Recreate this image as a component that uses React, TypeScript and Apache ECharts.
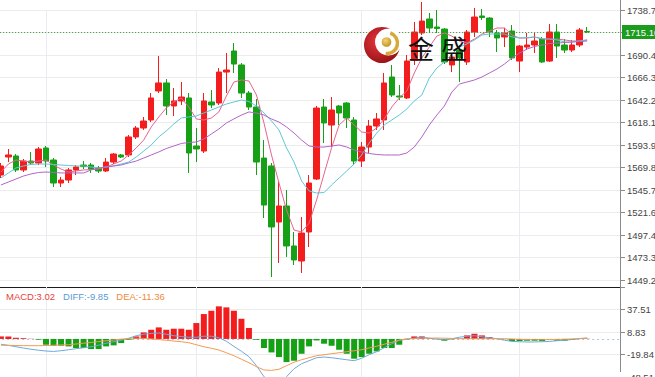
import React, { useEffect, useRef } from "react";
import * as echarts from "echarts";

const CATEGORIES = Array.from({ length: 83 }, (_, i) => String(i + 1));

const OPEN = [
  1561.8, 1581.1, 1582.2, 1567.2, 1576.8, 1574.7, 1590.8, 1577.9, 1553.2, 1556.4,
  1567.2, 1572.5, 1572.5, 1569.3, 1566.1, 1575.7, 1583.3, 1583.3, 1602.6, 1612.2,
  1620.8, 1651.9, 1660.5, 1635.8, 1641.2, 1644.4, 1592.9, 1587.5, 1640.1, 1639.0,
  1672.2, 1694.8, 1679.8, 1649.7, 1634.7, 1580.0, 1571.5, 1511.4, 1528.6, 1485.7,
  1469.6, 1500.7, 1557.5, 1634.7, 1615.4, 1635.8, 1639.0, 1620.8, 1576.8, 1591.8,
  1614.3, 1620.8, 1666.9, 1646.5, 1644.4, 1685.1, 1714.1, 1729.1, 1720.5, 1718.3,
  1679.8, 1695.8, 1683.0, 1715.1, 1732.3, 1730.1, 1714.1, 1709.8, 1716.2, 1684.0,
  1699.0, 1701.2, 1707.6, 1684.0, 1715.1, 1701.2, 1695.8, 1701.2, 1715.7,
];
const CLOSE = [
  1571.5, 1583.3, 1567.2, 1576.8, 1574.7, 1589.7, 1576.8, 1553.2, 1556.4, 1567.2,
  1570.4, 1570.9, 1568.2, 1566.1, 1575.7, 1584.3, 1581.1, 1602.6, 1612.2, 1619.7,
  1644.4, 1660.5, 1635.8, 1641.2, 1645.4, 1585.4, 1589.7, 1641.2, 1636.9, 1672.2,
  1674.4, 1680.8, 1649.7, 1634.7, 1575.7, 1529.6, 1506.1, 1528.6, 1485.7, 1470.7,
  1499.6, 1553.2, 1633.6, 1617.6, 1631.5, 1628.3, 1622.9, 1576.8, 1591.8, 1614.3,
  1621.9, 1660.5, 1647.6, 1645.4, 1684.0, 1715.1, 1726.9, 1719.4, 1718.9, 1683.0,
  1688.3, 1687.3, 1715.1, 1731.2, 1730.7, 1715.1, 1708.7, 1714.1, 1687.3, 1700.1,
  1701.2, 1705.5, 1683.0, 1715.1, 1700.1, 1695.8, 1701.2, 1717.3, 1715.1,
];
const LOW = [
  1558.6, 1575.7, 1565.0, 1565.0, 1572.5, 1572.5, 1570.4, 1548.9, 1548.9, 1553.2,
  1561.8, 1568.2, 1564.0, 1564.0, 1565.0, 1573.6, 1580.0, 1581.1, 1600.4, 1610.1,
  1618.6, 1649.7, 1626.1, 1625.1, 1636.9, 1564.0, 1575.7, 1585.4, 1633.6, 1636.9,
  1649.7, 1671.2, 1644.4, 1631.5, 1561.8, 1515.7, 1452.4, 1467.5, 1473.9, 1465.3,
  1456.7, 1484.6, 1556.4, 1596.1, 1591.8, 1615.4, 1612.2, 1572.5, 1570.4, 1585.4,
  1610.1, 1610.1, 1645.4, 1642.2, 1643.3, 1679.8, 1711.9, 1714.1, 1714.1, 1680.8,
  1672.2, 1661.5, 1679.8, 1709.8, 1728.0, 1709.8, 1693.7, 1699.0, 1685.1, 1672.2,
  1695.8, 1692.6, 1681.9, 1683.0, 1687.3, 1692.6, 1693.7, 1699.0, 1714.1,
];
const HIGH = [
  1574.7, 1589.7, 1584.3, 1579.0, 1586.5, 1591.8, 1592.9, 1580.0, 1559.7, 1569.3,
  1572.5, 1576.8, 1574.7, 1571.5, 1580.0, 1585.4, 1584.3, 1604.7, 1614.3, 1624.0,
  1649.7, 1689.4, 1664.7, 1655.1, 1661.5, 1649.7, 1612.2, 1649.7, 1652.9, 1676.5,
  1692.6, 1703.3, 1681.9, 1651.9, 1643.3, 1599.3, 1574.7, 1554.3, 1545.7, 1500.7,
  1516.8, 1561.8, 1635.8, 1643.3, 1645.4, 1636.9, 1640.1, 1624.0, 1597.2, 1620.8,
  1628.3, 1671.2, 1679.8, 1658.3, 1690.5, 1725.9, 1747.3, 1735.5, 1738.7, 1719.4,
  1692.6, 1701.2, 1717.3, 1740.9, 1739.8, 1731.2, 1717.3, 1719.4, 1722.6, 1701.2,
  1714.1, 1714.1, 1709.8, 1723.7, 1723.7, 1707.6, 1706.6, 1719.4, 1720.5,
];

const MA5 = [
  1565.0, 1573.6, 1577.9, 1576.8, 1575.7, 1576.8, 1577.9, 1572.5, 1568.2, 1565.0,
  1566.1, 1567.2, 1567.7, 1568.2, 1570.4, 1573.6, 1576.8, 1583.3, 1590.8, 1599.3,
  1613.3, 1624.0, 1633.6, 1640.1, 1644.4, 1634.7, 1621.9, 1620.8, 1622.9, 1629.4,
  1646.5, 1661.5, 1663.7, 1662.6, 1647.6, 1617.6, 1583.3, 1553.2, 1524.3, 1502.8,
  1500.7, 1510.0, 1535.0, 1563.0, 1591.0, 1615.4, 1622.9, 1615.4, 1607.9, 1606.8,
  1612.2, 1621.9, 1634.7, 1644.4, 1651.9, 1671.2, 1687.3, 1699.0, 1710.8, 1714.1,
  1710.8, 1705.5, 1703.3, 1707.6, 1713.0, 1716.2, 1719.4, 1719.4, 1711.9, 1708.7,
  1708.7, 1709.8, 1707.6, 1707.6, 1707.6, 1706.6, 1705.5, 1705.5, 1706.6,
];
const MA10 = [
  1558.6, 1564.0, 1569.3, 1571.5, 1573.1, 1573.6, 1573.6, 1573.1, 1572.5, 1572.0,
  1571.5, 1571.5, 1570.4, 1569.3, 1570.4, 1571.5, 1573.6, 1575.7, 1581.1, 1587.5,
  1594.0, 1602.6, 1609.0, 1616.5, 1622.9, 1624.0, 1625.1, 1628.3, 1631.5, 1634.7,
  1637.9, 1640.1, 1642.2, 1640.6, 1635.8, 1628.3, 1619.7, 1610.1, 1590.8, 1575.7,
  1555.4, 1544.7, 1542.5, 1543.0, 1551.1, 1558.6, 1566.1, 1573.6, 1583.3, 1596.1,
  1606.8, 1615.4, 1620.8, 1626.1, 1632.6, 1641.2, 1647.6, 1665.8, 1676.5, 1683.0,
  1691.5, 1699.0, 1702.3, 1706.6, 1711.9, 1713.0, 1713.0, 1713.0, 1709.8, 1708.7,
  1709.2, 1709.8, 1708.2, 1707.6, 1706.6, 1704.4, 1704.4, 1705.5, 1706.6,
];
const MA20 = [
  1551.1, 1554.3, 1557.5, 1560.7, 1562.9, 1564.5, 1565.0, 1564.5, 1564.0, 1564.0,
  1564.0, 1564.0, 1567.2, 1569.3, 1570.4, 1571.5, 1572.5, 1574.7, 1576.8, 1580.0,
  1583.3, 1586.5, 1590.2, 1592.9, 1595.6, 1596.7, 1597.2, 1600.4, 1605.8, 1611.1,
  1617.6, 1621.9, 1626.1, 1629.4, 1628.3, 1626.1, 1621.9, 1618.6, 1613.3, 1606.8,
  1599.3, 1592.9, 1591.8, 1591.8, 1592.9, 1594.0, 1591.8, 1588.6, 1586.5, 1584.9,
  1583.8, 1583.3, 1583.3, 1583.3, 1585.4, 1591.8, 1602.6, 1615.4, 1626.1, 1635.8,
  1650.8, 1659.4, 1661.5, 1663.7, 1666.9, 1671.2, 1675.5, 1680.8, 1687.3, 1692.6,
  1696.9, 1699.6, 1701.2, 1702.8, 1703.3, 1703.9, 1704.4, 1704.9, 1705.5,
];

const MACD_HIST = [
  3.2, 3.0, 1.5, 1.0, 0.3, -1.0, -7.4, -8.7, -8.7, -9.5,
  -11.6, -11.6, -12.9, -12.9, -9.5, -8.2, -5.3, -1.0, 3.2, 8.3,
  11.7, 14.7, 11.7, 13.0, 13.0, 11.7, 20.2, 31.7, 35.9, 41.5,
  40.2, 35.9, 25.7, 13.9, -1.0, -11.6, -17.2, -23.1, -29.5, -27.8,
  -18.9, -9.5, -1.9, -6.1, -8.7, -13.8, -18.9, -25.2, -23.1, -18.9,
  -15.9, -11.6, -11.6, -7.4, -0.5, 3.2, 3.2, 0.7, 0.3, -2.3,
  -0.5, 0.3, 4.5, 6.6, 4.5, 2.4, 0.3, -0.3, -2.7, -2.7,
  -2.3, -2.3, -2.7, -0.5, -2.3, -2.3, -1.4, 0.3, 0.3,
];
const DIFF = [
  -6.75, -8.15, -9.94, -11.6, -13.12, -14.4, -15.42, -15.93, -15.04, -13.76,
  -12.49, -11.21, -9.94, -8.03, -5.48, -3.57, -1.66, 0.89, 4.08, 5.99,
  7.01, 7.52, 5.99, 4.08, 3.06, 2.17, 2.17, 3.44, 3.44, 1.53,
  -2.93, -9.56, -15.67, -22.68, -34.15, -48.16, -55.81, -58.36, -48.16, -37.97,
  -31.6, -27.78, -23.95, -23.06, -23.95, -25.23, -26.5, -27.78, -24.59, -20.13,
  -16.31, -11.21, -6.12, -1.66, -0.38, 0.89, 2.42, 0.89, -0.38, -1.02,
  0.25, 2.17, 3.44, 4.08, 2.8, 1.53, 0.25, -1.66, -3.19, -3.57,
  -3.95, -3.82, -3.57, -3.19, -2.29, -1.66, -0.76, 0.25, 1.15,
];
const DEA = [
  -8.03, -8.15, -8.41, -8.54, -8.66, -8.66, -8.41, -8.03, -7.65, -7.39,
  -6.5, -5.48, -4.46, -3.44, -2.29, -1.4, -0.38, 0.64, 1.02, 0.64,
  -0.13, -0.76, -1.78, -2.68, -3.57, -4.84, -7.39, -9.94, -11.85, -14.14,
  -17.58, -21.41, -25.87, -30.33, -35.42, -39.5, -40.14, -38.61, -34.15, -29.69,
  -26.5, -23.95, -21.41, -20.13, -18.86, -17.58, -16.31, -15.04, -13.76, -11.47,
  -9.3, -6.75, -4.2, -1.66, 0.25, 0.51, 0.89, 1.02, 1.15, 0.89,
  0.64, 0.38, 0.25, 0.25, 0.25, 0.25, 0.25, 0.25, -0.13, -0.51,
  -0.76, -1.02, -1.02, -0.89, -0.64, -0.38, 0, 0.51, 1.15,
];

const PRICE_TICKS = [
  "1449.22", "1473.35", "1497.48", "1521.60", "1545.73", "1569.85", "1593.98",
  "1618.10", "1642.23", "1666.35", "1690.48", "", "1738.72",
];
const PRICE_MIN = 1449.2245;
const PRICE_STEP = 24.1255;
const MACD_TICKS = ["-48.51", "-19.84", "8.83", "37.51", ""];
const MACD_MIN = -48.51;
const MACD_STEP = 28.67;
const LAST_PRICE = 1715.1;
const LEGEND_LABELS = ["MACD", "DIFF", "DEA"];
const LEGEND_VALUES = ["3.02", "-9.85", "-11.36"];
const DAY_BREAKS = [6, 26, 48, 69];

const RED = "#f41d1d";
const GREEN = "#16a016";
const FONT = "'Liberation Sans', Arial, sans-serif";

export default function App() {
  const ref = useRef<HTMLDivElement>(null);

  useEffect(() => {
    if (!ref.current) return;
    const chart = echarts.init(ref.current, null, { renderer: "svg" });
    const candles = OPEN.map((o, i) => [o, CLOSE[i], LOW[i], HIGH[i]]);
    const gridLeft = -2.86;
    const vLines = DAY_BREAKS.map((i) => ({ xAxis: CATEGORIES[i] }));

    const option: any = {
      animation: false,
      backgroundColor: "#ffffff",
      grid: [
        { left: gridLeft, right: 34, top: 10, height: 270, outerBoundsMode: "none", containLabel: false },
        { left: gridLeft, right: 34, top: 287, height: 90, outerBoundsMode: "none", containLabel: false },
      ],
      xAxis: [
        {
          type: "category",
          gridIndex: 0,
          data: CATEGORIES,
          boundaryGap: true,
          axisLine: { show: false },
          axisTick: { show: false },
          axisLabel: { show: false },
          splitLine: { show: false },
        },
        {
          type: "category",
          gridIndex: 1,
          data: CATEGORIES,
          boundaryGap: true,
          position: "top",
          axisLine: { show: true, onZero: false, lineStyle: { color: "#1c1c1c", width: 1 } },
          axisTick: { show: false },
          axisLabel: { show: false },
          splitLine: { show: false },
        },
      ],
      yAxis: [
        {
          type: "value",
          gridIndex: 0,
          position: "right",
          min: PRICE_MIN,
          max: PRICE_MIN + 12 * PRICE_STEP,
          interval: PRICE_STEP,
          axisLine: { show: false },
          axisTick: { show: true, length: 4, lineStyle: { color: "#8a8a8a" } },
          axisLabel: {
            margin: 6,
            color: "#444",
            fontSize: 9.5,
            fontFamily: FONT,
            showMinLabel: true,
            showMaxLabel: true,
            hideOverlap: false,
            formatter: (v: number) => PRICE_TICKS[Math.round((v - PRICE_MIN) / PRICE_STEP)] ?? "",
          },
          splitLine: { show: true, lineStyle: { color: "#ececec", width: 1 } },
        },
        {
          type: "value",
          gridIndex: 1,
          position: "right",
          min: MACD_MIN,
          max: MACD_MIN + 4 * MACD_STEP,
          interval: MACD_STEP,
          axisLine: { show: false },
          axisTick: { show: true, length: 4, lineStyle: { color: "#8a8a8a" } },
          axisLabel: {
            margin: 6,
            color: "#444",
            fontSize: 9.5,
            fontFamily: FONT,
            showMinLabel: true,
            showMaxLabel: true,
            hideOverlap: false,
            formatter: (v: number) => MACD_TICKS[Math.round((v - MACD_MIN) / MACD_STEP)] ?? "",
          },
          splitLine: { show: true, lineStyle: { color: "#ececec", width: 1 } },
        },
      ],
      series: [
        {
          name: "K",
          type: "candlestick",
          xAxisIndex: 0,
          yAxisIndex: 0,
          data: candles,
          barWidth: 6,
          clip: false,
          itemStyle: {
            color: RED,
            color0: GREEN,
            borderColor: RED,
            borderColor0: GREEN,
            borderWidth: 1,
          },
          markLine: {
            silent: true,
            symbol: ["none", "none"],
            lineStyle: { color: "#2f9e2f", type: [1, 2], width: 1 },
            label: {
              show: true,
              position: "end",
              distance: 1,
              formatter: LAST_PRICE.toFixed(2),
              color: "#ffffff",
              backgroundColor: "#1c9c1c",
              padding: [2, 3, 2, 3],
              fontSize: 9.5,
              fontFamily: FONT,
            },
            data: [{ yAxis: LAST_PRICE }],
          },
        },
        {
          name: "MA5",
          type: "line",
          xAxisIndex: 0,
          yAxisIndex: 0,
          data: MA5,
          symbol: "none",
          lineStyle: { color: "#e8648e", width: 1 },
          z: 3,
        },
        {
          name: "MA10",
          type: "line",
          xAxisIndex: 0,
          yAxisIndex: 0,
          data: MA10,
          symbol: "none",
          lineStyle: { color: "#5fc6d6", width: 1 },
          z: 3,
        },
        {
          name: "MA20",
          type: "line",
          xAxisIndex: 0,
          yAxisIndex: 0,
          data: MA20,
          symbol: "none",
          lineStyle: { color: "#b066c6", width: 1 },
          z: 3,
          markLine: {
            silent: true,
            z: 1,
            symbol: ["none", "none"],
            label: { show: false },
            lineStyle: { color: "#e8edf2", type: "solid", width: 1 },
            data: vLines,
          },
        },
        {
          name: "MACD",
          type: "bar",
          xAxisIndex: 1,
          yAxisIndex: 1,
          data: MACD_HIST,
          barWidth: 6,
          itemStyle: {
            color: (p: any) => (p.value >= 0 ? RED : GREEN),
          },
          markLine: {
            silent: true,
            z: 1,
            symbol: ["none", "none"],
            label: { show: false },
            lineStyle: { color: "#e8edf2", type: "solid", width: 1 },
            data: [
              { yAxis: 0, lineStyle: { color: "#9fcbe3", type: [2, 3], width: 1 } },
              ...vLines,
            ],
          },
        },
        {
          name: "DIFF",
          type: "line",
          xAxisIndex: 1,
          yAxisIndex: 1,
          data: DIFF,
          symbol: "none",
          lineStyle: { color: "#6ea9dd", width: 1 },
          z: 3,
        },
        {
          name: "DEA",
          type: "line",
          xAxisIndex: 1,
          yAxisIndex: 1,
          data: DEA,
          symbol: "none",
          lineStyle: { color: "#f39a52", width: 1 },
          z: 3,
        },
      ],
      graphic: [
        {
          type: "line",
          z: 50,
          shape: { x1: 620.5, y1: 0, x2: 620.5, y2: 372 },
          style: { stroke: "#8a8a8a", lineWidth: 1 },
        },
        {
          type: "text",
          z: 50,
          x: 6,
          y: 296,
          style: {
            text:
              "{a|" + LEGEND_LABELS[0] + ":" + LEGEND_VALUES[0] + "}   {b|" +
              LEGEND_LABELS[1] + ":" + LEGEND_VALUES[1] + "}   {c|" +
              LEGEND_LABELS[2] + ":" + LEGEND_VALUES[2] + "}",
            verticalAlign: "middle",
            fontSize: 9.5,
            fontFamily: FONT,
            rich: {
              a: { fill: "#e8413c", fontSize: 9.5, fontFamily: FONT },
              b: { fill: "#5b9bd5", fontSize: 9.5, fontFamily: FONT },
              c: { fill: "#ef8a3a", fontSize: 9.5, fontFamily: FONT },
            },
          },
        },
        {
          type: "circle",
          z: 100,
          shape: { cx: 382, cy: 45, r: 18 },
          style: {
            fill: new echarts.graphic.RadialGradient(0.4, 0.4, 0.75, [
              { offset: 0, color: "#e6393c" },
              { offset: 1, color: "#8a0a10" },
            ]),
          },
        },
        {
          type: "circle",
          z: 101,
          shape: { cx: 388.5, cy: 42, r: 13.5 },
          style: { fill: "#ffffff" },
        },
        {
          type: "arc",
          z: 102,
          shape: { cx: 387, cy: 43, r: 10.5, startAngle: -1.25, endAngle: 1.7, clockwise: true },
          style: { stroke: "#d6a93a", lineWidth: 3.5, fill: "none" },
        },
        {
          type: "circle",
          z: 102,
          shape: { cx: 386.5, cy: 42, r: 4.8 },
          style: {
            fill: new echarts.graphic.RadialGradient(0.4, 0.35, 0.7, [
              { offset: 0, color: "#f4d572" },
              { offset: 1, color: "#c0901e" },
            ]),
          },
        },
        {
          type: "text",
          z: 103,
          x: 408,
          y: 47,
          style: {
            text: "金",
            fontSize: 26,
            fontFamily: "'Noto Sans CJK SC', sans-serif",
            fill: "#111111",
            verticalAlign: "middle",
          },
        },
        {
          type: "text",
          z: 103,
          x: 441,
          y: 47,
          style: {
            text: "盛",
            fontSize: 26,
            fontFamily: "'Noto Sans CJK SC', sans-serif",
            fill: "#111111",
            verticalAlign: "middle",
          },
        },
      ],
    };

    chart.setOption(option);
    return () => chart.dispose();
  }, []);

  return (
    <div
      ref={ref}
      style={{ position: "fixed", left: 0, top: 0, width: 655, height: 377, background: "#fff" }}
    />
  );
}
